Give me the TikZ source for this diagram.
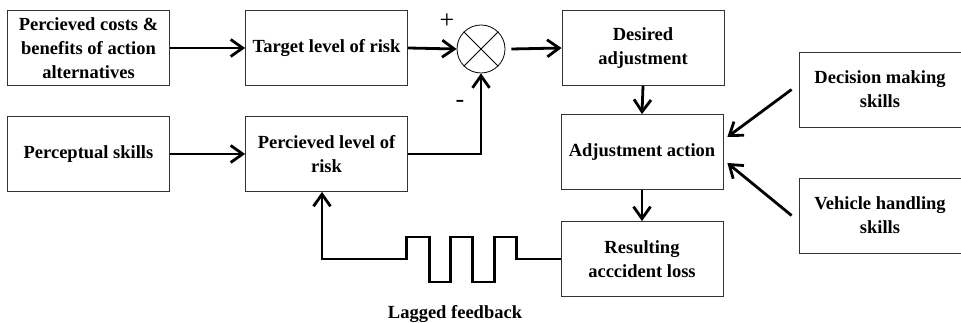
\documentclass[tikz,border=0pt]{standalone}
\usepackage{fontspec}
\setmainfont{Liberation Serif}
\usetikzlibrary{positioning,calc,arrows.meta}

\tikzset{
    blk/.style={draw=black!80, line width=0.8pt, minimum width=162pt, minimum height=75pt,
        align=center, inner sep=1pt, font=\fontsize{18.5}{24}\selectfont\bfseries},
    sgn/.style={inner sep=0pt, font=\fontsize{26}{28}\selectfont},
    arr/.style={line width=2.8pt, -{Straight Barb[length=12pt,width=17pt,line width=2.8pt]}}
}

\begin{document}
\begin{tikzpicture}[x=1pt,y=1pt]
    \useasboundingbox (0,0) rectangle (961,323);

    % Top row
    \node[blk] (costs) at (88.5,275) {Percieved costs \&\\benefits of action\\alternatives};
    \node[blk] (target) at (326.5,275) {Target level of risk};
    \node[draw, circle, minimum size=48pt, line width=0.8pt] (sum) at (481,274) {};
    \draw[line width=0.8pt] (sum.north west) -- (sum.south east);
    \draw[line width=0.8pt] (sum.north east) -- (sum.south west);
    \node[sgn] (plus) at (447,302) {+};
    \node[sgn] (minus) at (460,219) {-};
    \node[blk] (desired) at (643,275) {Desired\\adjustment};

    % Middle row
    \node[blk] (percskills) at (88.5,169) {Perceptual skills};
    \node[blk] (perclevel) at (326.5,169) {Percieved level of\\risk};
    \node[blk] (action) at (642,171) {Adjustment action};

    % Bottom row
    \node[blk] (loss) at (642,64) {Resulting\\acccident loss};
    \node[font=\fontsize{18.5}{24}\selectfont\bfseries] (lag) at (455,9) {Lagged feedback};

    % Skills on the right
    \node[blk] (decision) at (880,233.5) {Decision making\\skills};
    \node[blk] (vehicle) at (880,107.5) {Vehicle handling\\skills};

    % Arrows
    \draw[arr] (costs.east) -- (target.west);
    \draw[arr] (target.east) -- (sum.west);
    \draw[arr] ([xshift=6pt]sum.east) -- (desired.west);
    \draw[arr] (percskills.east) -- (perclevel.west);
    \draw[arr] (perclevel.east) -| (sum.south);
    \draw[arr] (desired.south) -- (action.north);
    \draw[arr] (action.south) -- (loss.north);
    \draw[arr] ([xshift=-7pt]decision.west) -- ([xshift=4pt,yshift=15pt]action.east);
    \draw[arr] ([xshift=-7pt]vehicle.west) -- ([xshift=4pt,yshift=-11pt]action.east);

    % Lagged feedback
    \draw[arr] (loss.west) -- ++(-44,0) -- ++(0,22) -- ++(-22,0) -- ++(0,-45) -- ++(-22,0)
        -- ++(0,45) -- ++(-22,0) -- ++(0,-45) -- ++(-21,0) -- ++(0,45) -- ++(-23,0)
        -- ++(0,-22) -| ([xshift=-4.5pt]perclevel.south);
\end{tikzpicture}
\end{document}
